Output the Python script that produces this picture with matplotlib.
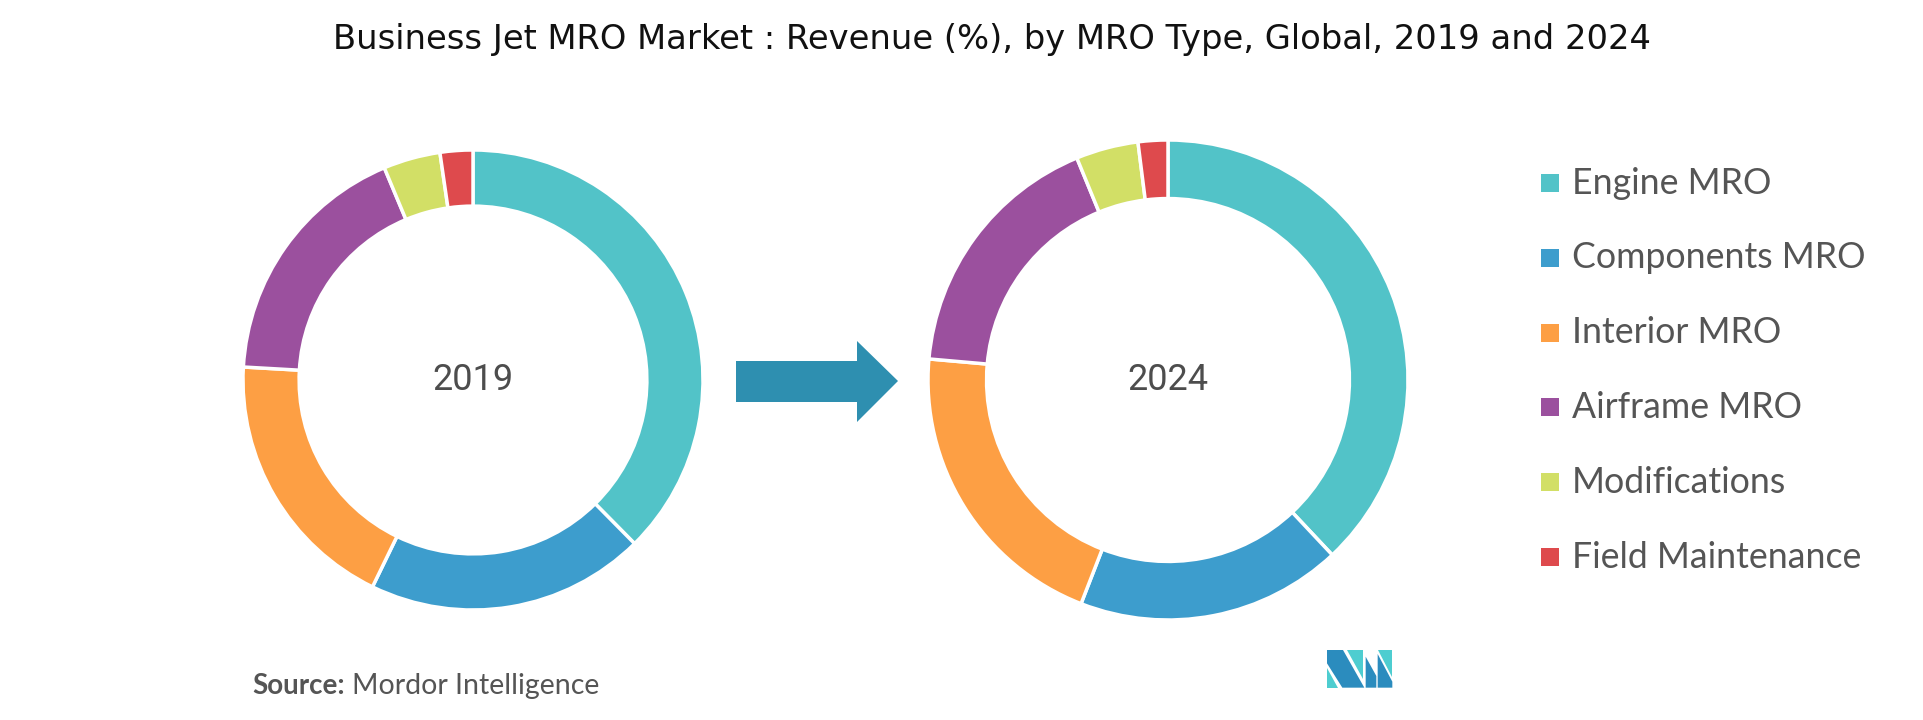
import matplotlib
matplotlib.use("Agg")
import matplotlib.pyplot as plt
from matplotlib.patches import Polygon, Rectangle

# data (percent share, clockwise from 12 o'clock)
categories = ["Engine MRO", "Components MRO", "Interior MRO", "Airframe MRO",
              "Modifications", "Field Maintenance"]
share_2019 = [37.6, 19.6, 18.7, 17.8, 4.0, 2.3]
share_2024 = [38.0, 17.9, 20.5, 17.4, 4.2, 2.0]
years = ["2019", "2024"]
colors = ["#52C3C8", "#3D9DCD", "#FD9F44", "#9B509E", "#D2DF66", "#DE4A4D"]

W, H = 1924, 720
fig = plt.figure(figsize=(W / 100, H / 100), dpi=100)
fig.patch.set_facecolor("white")

# overlay axes in pixel coords for decorations
bg = fig.add_axes([0, 0, 1, 1])
bg.set_xlim(0, W)
bg.set_ylim(H, 0)
bg.axis("off")


def donut(cx, cy, r, values, label):
    ax = fig.add_axes([(cx - r) / W, (H - cy - r) / H, 2 * r / W, 2 * r / H])
    ax.pie(values, colors=colors, startangle=90, counterclock=False, radius=1,
           wedgeprops=dict(width=0.244, edgecolor="white", linewidth=2.5))
    ax.set_xlim(-1, 1)
    ax.set_ylim(-1, 1)
    ax.set_aspect("equal")
    ax.axis("off")
    ax.text(0, 0, label, ha="center", va="center", fontsize=26,
            family="Roboto", color="#4D4D4D")


donut(473, 380, 230, share_2019, years[0])
donut(1168, 380, 240, share_2024, years[1])

# arrow between the two years
bg.add_patch(Polygon([(736, 361), (857, 361), (857, 341), (898, 381),
                      (857, 422), (857, 402), (736, 402)],
                     closed=True, color="#2E8FB0", lw=0))

# title
fig.text(992 / W, 1 - 40 / H,
         "Business Jet MRO Market : Revenue (%), by MRO Type, Global, 2019 and 2024",
         ha="center", va="center", fontsize=24.3, family="DejaVu Sans",
         color="#111111")

# legend
for i, name in enumerate(categories):
    y = 183 + i * 74.8
    bg.add_patch(Rectangle((1541, y - 9), 18, 18, color=colors[i], lw=0))
    bg.text(1572, y, name, ha="left", va="center", fontsize=25.7,
            family="Lato", color="#555555")

# source line
src = fig.text(252 / W, 1 - 686 / H, "Source:", ha="left", va="center",
               fontsize=20, fontweight="bold", family="Lato", color="#555555")
fig.canvas.draw()
bb = src.get_window_extent()
fig.text((bb.x1 + 7) / W, 1 - 686 / H, "Mordor Intelligence", ha="left",
         va="center", fontsize=20.5, family="Lato", color="#555555")

# small logo
dark, light = "#2B8CBE", "#4ECDD0"
ox, oy, s = 1327, 650, 1 / 3.0
logo = [
    (light, [(0, 55), (0, 113), (34, 113)]),
    (dark, [(0, 0), (48, 0), (112, 113), (46, 113), (0, 40)]),
    (light, [(60, 0), (108, 0), (108, 88)]),
    (dark, [(116, 20), (148, 78), (148, 113), (116, 113)]),
    (light, [(152, 0), (196, 0), (196, 80)]),
    (dark, [(152, 12), (196, 95), (196, 113), (152, 113)]),
]
for c, pts in logo:
    bg.add_patch(Polygon([(ox + x * s, oy + y * s) for x, y in pts],
                         closed=True, color=c, lw=0))

fig.savefig("out.png", dpi=100, facecolor="white")
